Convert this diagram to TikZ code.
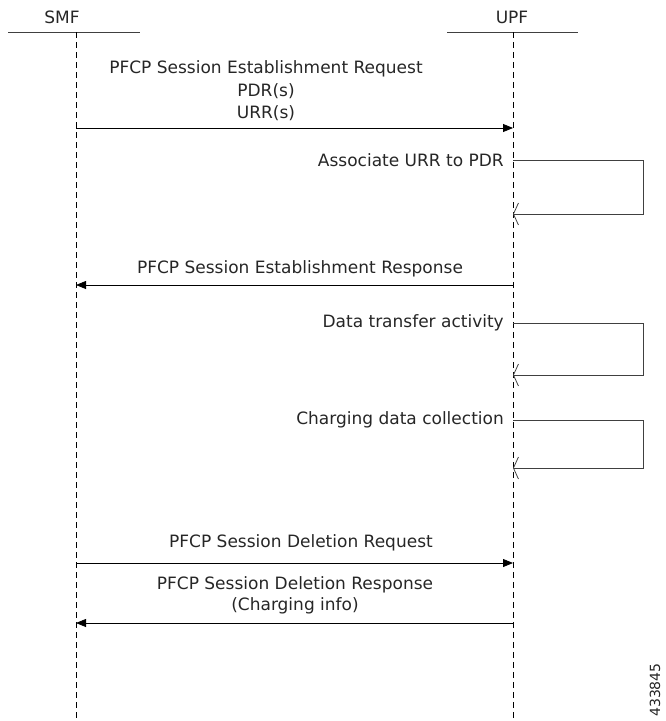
\documentclass[tikz,border=0pt]{standalone}
\usepackage{fontspec}
\setmainfont{DejaVu Sans}
\usetikzlibrary{arrows.meta}
\tikzset{
  msg/.style={-{Triangle[length=10pt,width=8pt]}, thick},
  loop/.style={-{Straight Barb[length=5pt,width=22pt]}, thick, draw=black!75},
  life/.style={dashed, thick, dash pattern=on 6pt off 4pt},
  lbl/.style={font=\fontsize{17}{20}\selectfont, text=black!85, inner sep=1pt}
}
\begin{document}
\begin{tikzpicture}[x=1pt,y=-1pt]
  \useasboundingbox (0,0) rectangle (665,721);
  \draw
    (62,17) node[lbl] (smf){SMF}
    (512,17) node[lbl] (upf){UPF};
  \draw[thick, black!75] (8,32) -- (140,32);
  \draw[thick, black!75] (447,32) -- (578,32);
  \coordinate (s0) at (76,32);
  \coordinate (s1) at (76,721);
  \coordinate (u0) at (513,32);
  \coordinate (u1) at (513,721);
  \begin{scope}[life]
    \draw (s0) -- (s1);
    \draw (u0) -- (u1);
  \end{scope}
  % establishment request
  \coordinate (a1) at (76,128);
  \coordinate (b1) at (513,128);
  \draw[msg] (a1) -- (b1);
  \draw
    (266,69) node[lbl] (req1){PFCP Session Establishment Request}
    (266,91) node[lbl] (req2){PDR(s)}
    (266,113) node[lbl] (req3){URR(s)};
  % associate urr
  \coordinate (l1) at (513,160);
  \coordinate (m1) at (513,214);
  \draw[loop] (l1) -- (643,160) -- (643,214) -- (m1);
  \draw (505,160) node[lbl, anchor=east] (assoc){Associate URR to PDR};
  % establishment response
  \coordinate (a2) at (513,285);
  \coordinate (b2) at (76,285);
  \draw[msg] (a2) -- (b2);
  \draw (300,269) node[lbl] (resp){PFCP Session Establishment Response};
  % data transfer
  \coordinate (l2) at (513,323);
  \coordinate (m2) at (513,375);
  \draw[loop] (l2) -- (643,323) -- (643,375) -- (m2);
  \draw (505,323) node[lbl, anchor=east] (data){Data transfer activity};
  % charging collection
  \coordinate (l3) at (513,420);
  \coordinate (m3) at (513,468);
  \draw[loop] (l3) -- (643,420) -- (643,468) -- (m3);
  \draw (505,420) node[lbl, anchor=east] (charg){Charging data collection};
  % deletion request
  \coordinate (a3) at (76,563);
  \coordinate (b3) at (513,563);
  \draw[msg] (a3) -- (b3);
  \draw (301,543) node[lbl] (delreq){PFCP Session Deletion Request};
  % deletion response
  \coordinate (a4) at (513,623);
  \coordinate (b4) at (76,623);
  \draw[msg] (a4) -- (b4);
  \draw
    (295,585) node[lbl] (delresp){PFCP Session Deletion Response}
    (295,606) node[lbl] (info){(Charging info)};
  \draw (655,690) node[lbl, rotate=90, font=\fontsize{14}{16}\selectfont] (num){433845};
\end{tikzpicture}
\end{document}
